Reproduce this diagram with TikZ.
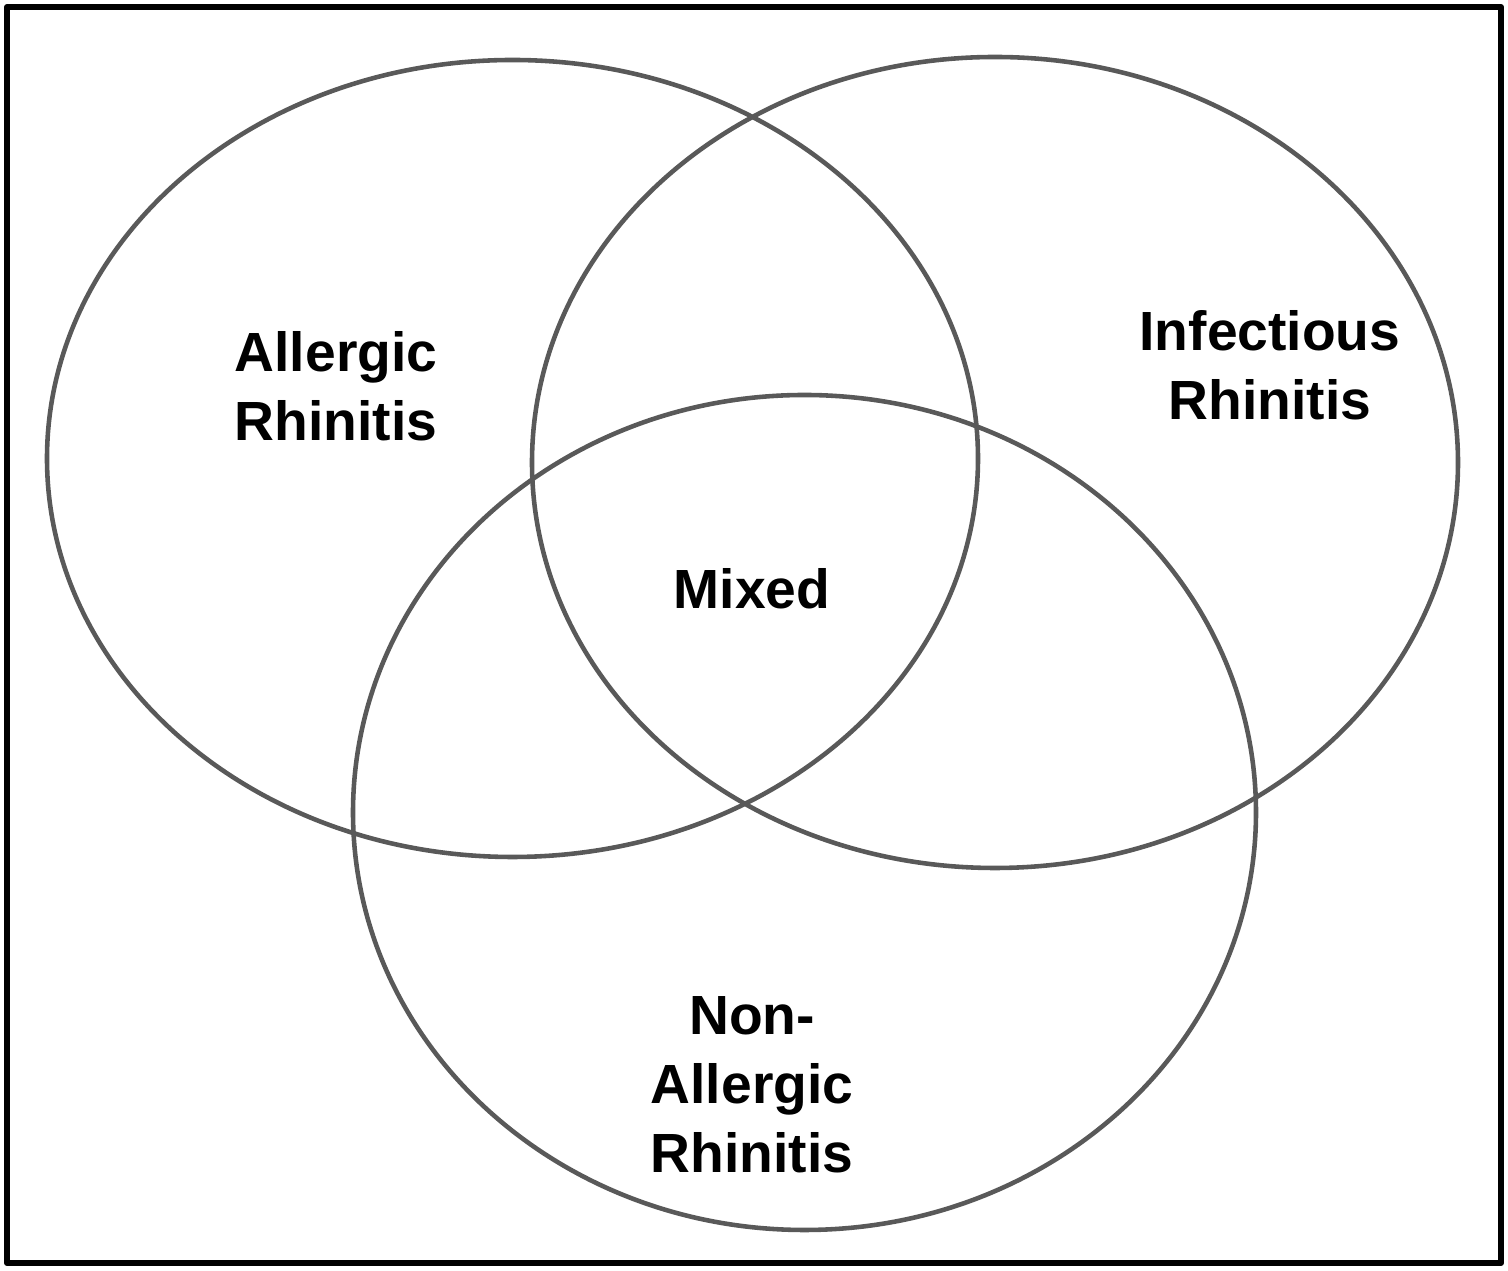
\documentclass[tikz,border=0pt]{standalone}
\usepackage{fontspec}
\setmainfont{Liberation Sans}
\definecolor{ink}{HTML}{000000}
\definecolor{ring}{HTML}{595959}

\begin{document}
\begin{tikzpicture}[
  x=.01cm,y=-.01cm,
  line cap=round,line join=round,
  setline/.style={draw=ring, line width=1.3pt},
  frame/.style={draw=ink, line width=1.7pt},
  label/.style={font=\bfseries\fontsize{15.7}{19.6}\selectfont, text=ink, align=center, inner sep=0pt}
]
\useasboundingbox (0,0) rectangle (1508,1271);

% outer frame
\draw[frame] (7,7) rectangle (1501,1263);

% the three sets
\draw[setline] (512.5,458.5) ellipse [x radius=465.5, y radius=398.5];
\draw[setline] (995,462.5) ellipse [x radius=463, y radius=405.5];
\draw[setline] (804.5,812.5) ellipse [x radius=451.5, y radius=417.5];

% set labels
\node[label] (allergic) at (336,386) {Allergic\\Rhinitis};
\node[label] (infectious) at (1270,365) {Infectious\\Rhinitis};
\node[label] (mixed) at (752,589) {Mixed};
\node[label] (nonallergic) at (752,1085) {Non-\\Allergic\\Rhinitis};

\end{tikzpicture}
\end{document}
